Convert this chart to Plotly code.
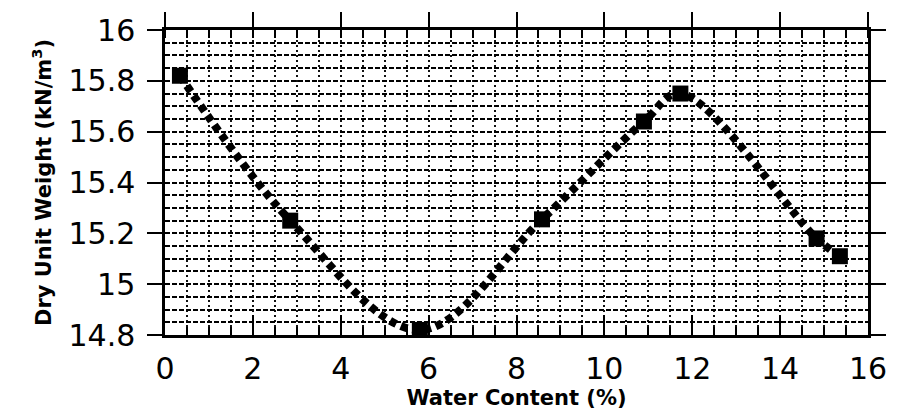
import plotly.graph_objects as go

# Data
water_content = [0.34, 2.85, 5.80, 8.58, 10.90, 11.73, 14.83, 15.36]
dry_unit_weight = [15.82, 15.25, 14.82, 15.255, 15.64, 15.75, 15.18, 15.11]

x_range = [0, 16]
y_range = [14.8, 16]
x_title = "Water Content (%)"
y_title = "Dry Unit Weight (kN/m<sup>3</sup>)"

FONT = "DejaVu Sans"

fig = go.Figure()

# smooth dotted curve through the measured points
fig.add_trace(go.Scatter(
    x=water_content, y=dry_unit_weight,
    mode="lines",
    line=dict(shape="spline", smoothing=1.0, color="black", width=8, dash="7px,5px"),
    hoverinfo="skip", showlegend=False,
))
# square markers
fig.add_trace(go.Scatter(
    x=water_content, y=dry_unit_weight,
    mode="markers",
    marker=dict(symbol="square", size=16, color="black"),
    showlegend=False,
))
# invisible trace to carry the mirrored axes
fig.add_trace(go.Scatter(
    x=water_content, y=dry_unit_weight, xaxis="x2", yaxis="y2",
    mode="markers", marker=dict(opacity=0), hoverinfo="skip", showlegend=False,
))

fig.update_layout(
    width=899, height=414,
    margin=dict(l=165, r=22, t=25, b=64),
    paper_bgcolor="white", plot_bgcolor="white",
    font=dict(family=FONT, color="black"),
    xaxis=dict(
        range=x_range, dtick=2, tick0=0,
        showline=True, linecolor="black", linewidth=2.5,
        ticks="inside", ticklen=20, tickwidth=2, tickcolor="black",
        tickfont=dict(size=30, family=FONT),
        ticklabelstandoff=5,
        showgrid=True, gridcolor="#111", gridwidth=1.6, griddash="2px,3px",
        zeroline=False,
        minor=dict(dtick=0.5, ticks="inside", ticklen=8, tickwidth=1.6, tickcolor="black",
                   showgrid=True, gridcolor="#111", gridwidth=1.6, griddash="2px,3px"),
        title=dict(text=x_title, font=dict(size=21, family=FONT, weight="bold"), standoff=2),
    ),
    xaxis2=dict(
        range=x_range, dtick=2, tick0=0, overlaying="x", side="top", anchor="y",
        showline=True, linecolor="black", linewidth=2.5,
        ticks="outside", ticklen=15, tickwidth=2, tickcolor="black",
        showticklabels=False, showgrid=False, zeroline=False,
        minor=dict(dtick=0.5, ticks="inside", ticklen=8, tickwidth=1.6, tickcolor="black", showgrid=False),
    ),
    yaxis=dict(
        range=y_range, dtick=0.2, tick0=14.8,
        showline=True, linecolor="black", linewidth=2.5,
        ticks="outside", ticklen=15, tickwidth=2, tickcolor="black",
        tickfont=dict(size=30, family=FONT),
        ticklabelstandoff=6,
        showgrid=True, gridcolor="#000", gridwidth=2, griddash="5px,2px",
        zeroline=False,
        minor=dict(dtick=0.05, showgrid=True, gridcolor="#000", gridwidth=2, griddash="5px,2px"),
        title=dict(text=y_title, font=dict(size=21, family=FONT, weight="bold"), standoff=12),
    ),
    yaxis2=dict(
        range=y_range, dtick=0.2, tick0=14.8, overlaying="y", side="right", anchor="x",
        showline=True, linecolor="black", linewidth=2.5,
        ticks="outside", ticklen=15, tickwidth=2, tickcolor="black",
        showticklabels=False, showgrid=False, zeroline=False,
    ),
)

fig.write_html("out.html")
